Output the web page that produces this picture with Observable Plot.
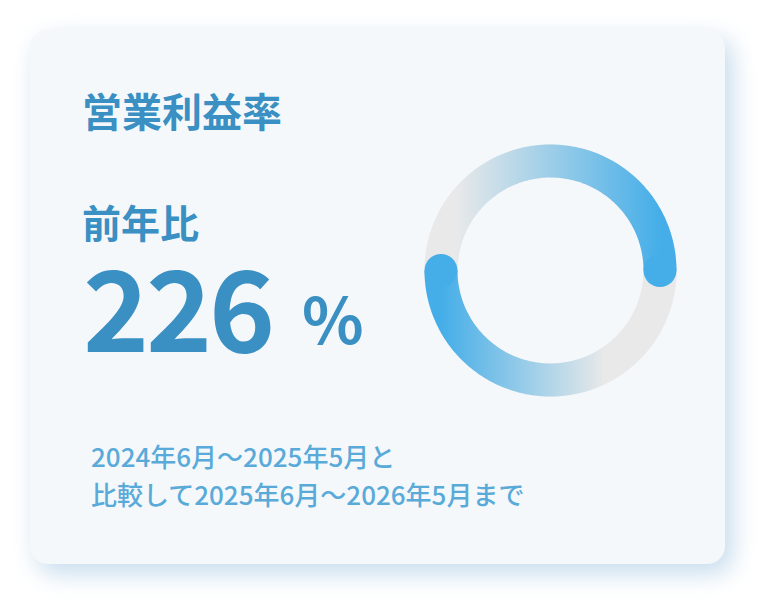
<!DOCTYPE html>
<html><head><meta charset="utf-8">
<script src="https://cdn.jsdelivr.net/npm/d3@7"></script>
<script src="https://cdn.jsdelivr.net/npm/@observablehq/plot@0.6"></script>
<style>
@font-face{font-family:"JPB";src:local("Noto Sans CJK JP Bold"),local("NotoSansCJKjp-Bold");font-weight:700;
 ascent-override:88%;descent-override:12%;line-gap-override:0%;}
html,body{margin:0;padding:0;background:#fff;width:762px;height:602px;overflow:hidden;}
body{font-family:"Noto Sans CJK JP","Noto Sans",sans-serif;position:relative;}
.card{position:absolute;left:30px;top:30px;width:695px;height:534px;border-radius:18px;background:#f4f8fb;
 box-shadow:7px 9px 24px rgba(110,165,210,0.4);}
.t{position:absolute;white-space:nowrap;line-height:1;}
.b{font-family:"JPB","Noto Sans CJK JP",sans-serif;font-weight:700;color:#3a8fc3;}
#title{left:82px;top:92px;font-size:40px;}
#label{left:82px;top:204px;font-size:39px;}
#value{left:83px;top:253px;font-size:112px;letter-spacing:-3px;}
#unit{left:302px;top:288px;font-size:64px;}
#caption{left:91px;top:437px;font-size:26px;font-weight:500;color:#5aaad9;line-height:38px;}
#ring{position:absolute;left:400px;top:120px;}
</style></head>
<body>
<div class="card"></div>
<div class="t b" id="title"></div>
<div class="t b" id="label"></div>
<div class="t b" id="value"></div>
<div class="t b" id="unit"></div>
<div class="t" id="caption"></div>
<div id="ring"></div>
<script>
// ---- data ----
const metricTitle = "営業利益率";
const compareLabel = "前年比";
const ratioValues = [226];
const ratioUnit = "%";
const captionLines = ["2024年6月～2025年5月と", "比較して2025年6月～2026年5月まで"];
// ring arcs (degrees, clockwise from 12 o'clock)
const arcNames = ["upper", "lower"];
const arcStarts = [270, 270];
const arcEnds = [450, 90];
const blueColor = "#45aee8";
const trackColor = "#e9e9e9";

document.getElementById("title").textContent = metricTitle;
document.getElementById("label").textContent = compareLabel;
document.getElementById("value").textContent = String(ratioValues[0]);
document.getElementById("unit").textContent = ratioUnit;
document.getElementById("caption").innerHTML = captionLines.join("<br>");

const R = 109.5, W = 33;
function arcPoints(a0, a1, name) {
  const n = Math.max(2, Math.ceil(Math.abs(a1 - a0)));
  const pts = [];
  for (let i = 0; i <= n; i++) {
    const a = (a0 + (a1 - a0) * i / n) * Math.PI / 180;
    pts.push({x: R * Math.sin(a), y: R * Math.cos(a), name});
  }
  return pts;
}
const track = arcPoints(0, 360, "track");
const arcs = arcNames.map((nm, i) => arcPoints(arcStarts[i], arcEnds[i], nm));
const caps = [arcs[0][arcs[0].length - 1], arcs[1][0]];

const plot = Plot.plot({
  width: 300, height: 300, margin: 0,
  x: {domain: [-150, 150], axis: null},
  y: {domain: [-150, 150], axis: null},
  style: {background: "transparent", overflow: "visible"},
  marks: [
    Plot.line(track, {x: "x", y: "y", stroke: trackColor, strokeWidth: W, strokeLinecap: "butt"}),
    Plot.line(arcs[0], {x: "x", y: "y", stroke: "url(#gradUpper)", strokeWidth: W, strokeLinecap: "butt"}),
    Plot.line(arcs[1], {x: "x", y: "y", stroke: "url(#gradLower)", strokeWidth: W, strokeLinecap: "butt"}),
    Plot.dot(caps, {x: "x", y: "y", r: W / 2, fill: blueColor, stroke: null})
  ]
});
const sx = plot.scale("x");
const X = v => sx.apply(v);
const svg = d3.select(plot);
const defs = svg.insert("defs", ":first-child");
const g1 = defs.append("linearGradient").attr("id", "gradUpper").attr("gradientUnits", "userSpaceOnUse")
  .attr("x1", X(-95)).attr("y1", 0).attr("x2", X(R)).attr("y2", 0);
g1.append("stop").attr("offset", 0).attr("stop-color", trackColor);
g1.append("stop").attr("offset", 1).attr("stop-color", blueColor);
const g2 = defs.append("linearGradient").attr("id", "gradLower").attr("gradientUnits", "userSpaceOnUse")
  .attr("x1", X(-R)).attr("y1", 0).attr("x2", X(55)).attr("y2", 0);
g2.append("stop").attr("offset", 0).attr("stop-color", blueColor);
g2.append("stop").attr("offset", 1).attr("stop-color", trackColor);
document.getElementById("ring").appendChild(plot);
</script>
</body></html>
